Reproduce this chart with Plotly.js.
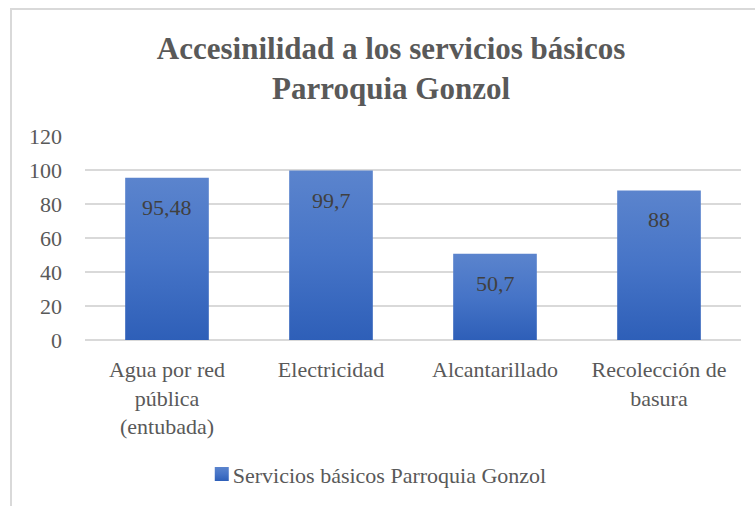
<!DOCTYPE html>
<html>
<head>
<meta charset="utf-8">
<script src="https://cdn.plot.ly/plotly-3.0.1.min.js"></script>
<style>
  html, body { margin: 0; padding: 0; background: #fff; }
  #wrap { position: relative; width: 755px; height: 506px; overflow: hidden; }
  #chart { position: absolute; left: 0; top: 0; width: 755px; height: 506px; }
  .bt { position: absolute; left: 10px; top: 8px; width: 745px; height: 2px; background: #d9d9d9; }
  .bl { position: absolute; left: 10px; top: 8px; width: 2px; height: 498px; background: #d9d9d9; }
</style>
</head>
<body>
<div id="wrap">
  <div id="chart"></div>
  <div class="bt"></div>
  <div class="bl"></div>
</div>
<script>
const categories = ["Agua por red<br>pública<br>(entubada)", "Electricidad", "Alcantarillado", "Recolección de<br>basura"];
const values = [95.48, 99.7, 50.7, 88];
const valueLabels = ["95,48", "99,7", "50,7", "88"];
const seriesName = "Servicios básicos Parroquia Gonzol";
const yTicks = [0, 20, 40, 60, 80, 100, 120];

const font = "Liberation Serif";

const trace = {
  type: "bar",
  x: categories,
  y: values,
  name: seriesName,
  marker: { color: "#4472c4" },
  hoverinfo: "none",
  showlegend: true
};

const annotations = categories.map((c, i) => ({
  x: c, y: values[i], xref: "x", yref: "y",
  text: valueLabels[i], showarrow: false,
  yanchor: "top", yshift: -15,
  font: { family: font, size: 22, color: "#404040" }
}));

const layout = {
  width: 755, height: 506,
  margin: { l: 85, r: 14, t: 136, b: 165 },
  paper_bgcolor: "rgba(0,0,0,0)",
  plot_bgcolor: "rgba(0,0,0,0)",
  bargap: 0.49,
  title: {
    text: "<b>Accesinilidad a los servicios básicos<br>Parroquia Gonzol</b>",
    font: { family: font, size: 31, color: "#595959" },
    x: 0.518, xanchor: "center", xref: "container",
    y: 0.884, yanchor: "middle", yref: "container"
  },
  xaxis: {
    type: "category",
    tickfont: { family: font, size: 22, color: "#595959" },
    showgrid: false, showline: false, ticks: "", zeroline: false,
    ticklabelstandoff: 14
  },
  yaxis: {
    range: [0, 120],
    tickvals: yTicks,
    tickfont: { family: font, size: 22, color: "#595959" },
    showgrid: true, gridcolor: "#d9d9d9", gridwidth: 1.5,
    zeroline: true, zerolinecolor: "#d9d9d9", zerolinewidth: 1.5,
    showline: false, ticks: "", ticklabelstandoff: 22
  },
  legend: {
    orientation: "h", x: 0.178, xanchor: "left",
    y: -0.65, yanchor: "middle",
    font: { family: font, size: 22, color: "#595959" },
    itemwidth: 30
  },
  annotations: annotations
};

Plotly.newPlot("chart", [trace], layout, { staticPlot: true }).then(gd => {
  const svg = gd.querySelector("svg.main-svg");
  const ns = "http://www.w3.org/2000/svg";
  let defs = svg.querySelector("defs");
  if (!defs) { defs = document.createElementNS(ns, "defs"); svg.insertBefore(defs, svg.firstChild); }
  const lg = document.createElementNS(ns, "linearGradient");
  lg.setAttribute("id", "barGrad");
  lg.setAttribute("x1", "0"); lg.setAttribute("y1", "0");
  lg.setAttribute("x2", "0"); lg.setAttribute("y2", "1");
  [["0", "#5b84cd"], ["0.5", "#4674c7"], ["1", "#2e5fb8"]].forEach(([o, c]) => {
    const s = document.createElementNS(ns, "stop");
    s.setAttribute("offset", o); s.setAttribute("stop-color", c);
    lg.appendChild(s);
  });
  defs.appendChild(lg);
  gd.querySelectorAll(".barlayer .point path").forEach(p => {
    p.style.fill = "url(#barGrad)";
  });
  gd.querySelectorAll(".legend .legendpoints path").forEach(p => {
    p.setAttribute("d", "M7,7H-7V-7H7Z");
    p.style.fill = "url(#barGrad)";
  });
  gd.querySelectorAll(".legend .legendtext").forEach(t => {
    t.setAttribute("x", "31");
  });
});
</script>
</body>
</html>
